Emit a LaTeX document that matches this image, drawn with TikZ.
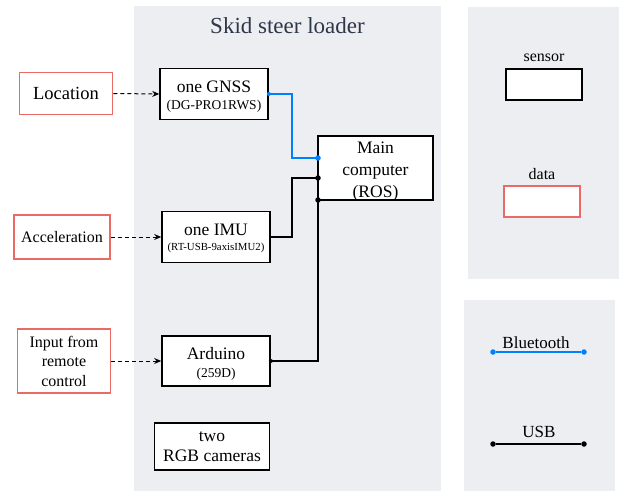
\documentclass[tikz,border=0pt]{standalone}
\usepackage{fontspec}
\setmainfont{Liberation Serif}
\usetikzlibrary{arrows.meta}
\definecolor{panel}{HTML}{EDEEF2}
\definecolor{datared}{HTML}{EA6B66}
\definecolor{bt}{HTML}{007FFF}
\definecolor{titlec}{HTML}{2D3748}
\tikzset{
  sensorbox/.style={draw=black, line width=1.6pt, fill=white, align=center, inner sep=1pt},
  databox/.style={draw=datared, line width=1.6pt, fill=white, align=center, inner sep=1pt},
  dataarrow/.style={dash pattern=on 4pt off 3pt, line width=1pt, -{Stealth[length=7pt,width=6pt]}},
  btline/.style={draw=bt, line width=1.5pt},
  usbline/.style={draw=black, line width=1.6pt},
  dotb/.style={circle, fill=bt, inner sep=0pt, minimum size=5.5pt},
  dotk/.style={circle, fill=black, inner sep=0pt, minimum size=5.5pt},
  legf/.style={font=\fontsize{17}{19}\selectfont},
  boxtext/.style={align=center, inner sep=0pt},
}
\begin{document}
\begin{tikzpicture}[x=1pt,y=-1pt]
\useasboundingbox (0,0) rectangle (623,492);
% panels
\fill[panel] (134,6) rectangle (441,491);
\fill[panel] (468,7) rectangle (619,279);
\fill[panel] (464,300) rectangle (615,491);
\node[text=titlec, font=\fontsize{23}{26}\selectfont] (title) at (287.5,26) {Skid steer loader};

% sensors
\node[sensorbox, minimum width=108pt, minimum height=51pt,
  label={[boxtext, font=\fontsize{17.5}{18}\selectfont, yshift=-3pt]center:{one GNSS\\[-1pt]\fontsize{13.5}{15}\selectfont (DG-PRO1RWS)}}] (gnss) at (214,94) {};
\node[sensorbox, minimum width=108pt, minimum height=51pt,
  label={[boxtext, font=\fontsize{17.5}{18}\selectfont, yshift=-1pt]center:{one IMU\\[-3pt]\fontsize{10.8}{13}\selectfont (RT-USB-9axisIMU2)}}] (imu) at (216,237) {};
\node[sensorbox, minimum width=108pt, minimum height=50pt,
  label={[boxtext, font=\fontsize{17.5}{19}\selectfont, yshift=-3pt]center:{Arduino\\[-1pt]\fontsize{13.5}{16}\selectfont (259D)}}] (ard) at (216,361) {};
\node[sensorbox, minimum width=115pt, minimum height=47pt, font=\fontsize{17.5}{20}\selectfont] (cam) at (212,446.5)
  {two\\RGB cameras};
\node[sensorbox, minimum width=115pt, minimum height=64pt,
  label={[boxtext, font=\fontsize{17.5}{22}\selectfont, yshift=-4pt]center:{Main\\computer\\(ROS)}}] (main) at (375.5,168) {};

% data boxes
\node[databox, minimum width=93pt, minimum height=42pt, font=\fontsize{18.5}{20}\selectfont] (loc) at (66,93.5) {Location};
\node[databox, minimum width=96pt, minimum height=44pt, font=\fontsize{16}{18}\selectfont] (acc) at (62,237) {Acceleration};
\node[databox, minimum width=93pt, minimum height=64pt, font=\fontsize{16}{19.5}\selectfont] (inp) at (64,361) {Input from\\remote\\control};

% data arrows
\draw[dataarrow] (loc.east) -- (gnss.west);
\draw[dataarrow] (acc.east) -- (imu.west);
\draw[dataarrow] (inp.east) -- (ard.west);

% connections
\coordinate (mbt) at (318,158);
\coordinate (mimu) at (318,178);
\coordinate (mard) at (318,200);
\draw[btline] (gnss.east) -- (292,94) -- (292,158) -- (mbt);
\draw[usbline] (imu.east) -- (292,237) -- (292,178) -- (mimu);
\draw[usbline] (ard.east) -- (318,361) -- (mard);
\node[dotb, minimum size=4pt] (d1) at (gnss.east) {};
\node[dotb] (d2) at (mbt) {};
\node[dotk] (d3) at (mimu) {};
\node[dotk] (d4) at (mard) {};
\node[dotk, minimum size=4pt] (d5) at (ard.east) {};

% legend
\node[font=\fontsize{16}{18}\selectfont] (lsen) at (544,58) {sensor};
\node[sensorbox, minimum width=76pt, minimum height=31pt] (sen) at (544,84.5) {};
\node[font=\fontsize{16}{18}\selectfont] (ldat) at (542,174) {data};
\node[databox, minimum width=76pt, minimum height=31pt] (dat) at (542,201.5) {};

\node[dotb] (b1) at (493,352) {};
\node[dotb] (b2) at (584,352) {};
\draw[btline] (b1) -- (b2);
\node[legf] (lbt) at (536,343) {Bluetooth};

\node[dotk] (u1) at (493,444) {};
\node[dotk] (u2) at (584,444) {};
\draw[usbline] (u1) -- (u2);
\node[legf] (lusb) at (539,432) {USB};
\end{tikzpicture}
\end{document}
